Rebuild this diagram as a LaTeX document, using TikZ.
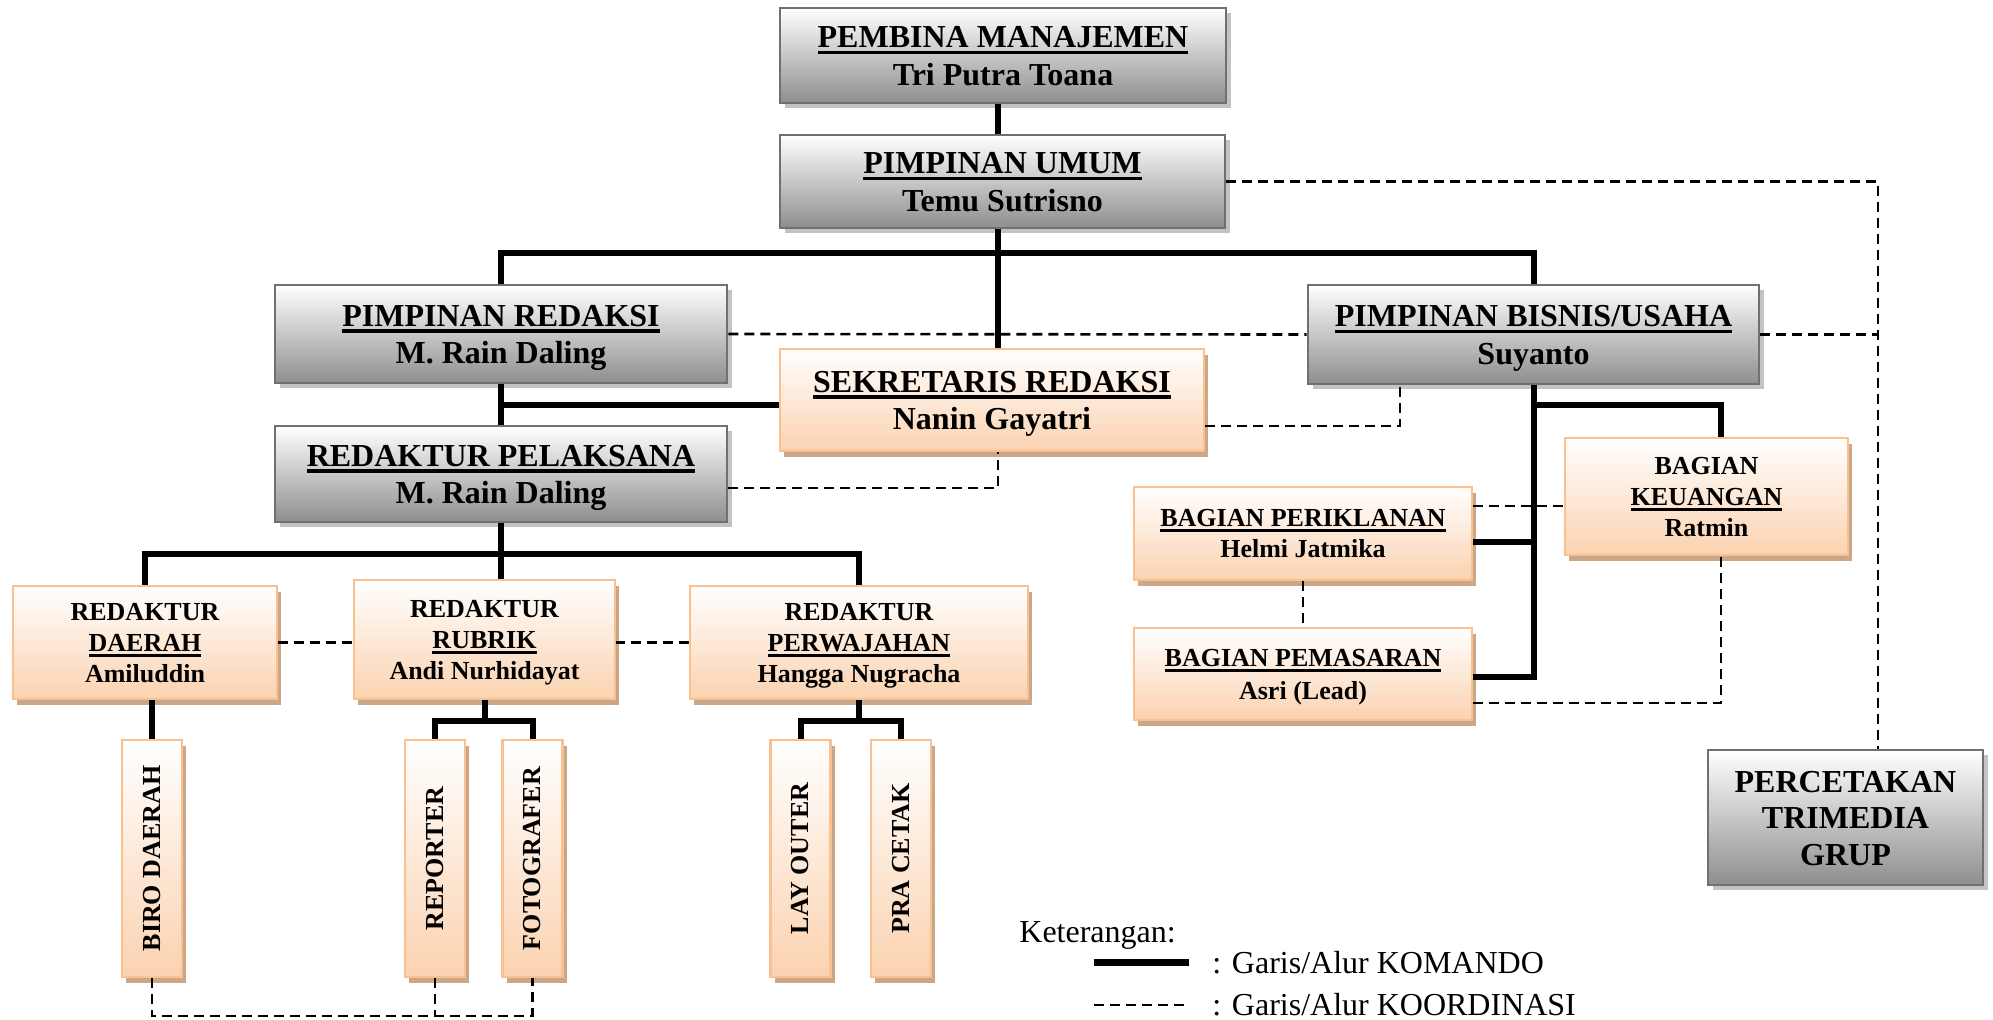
\documentclass[tikz,border=0pt]{standalone}
\usepackage{fontspec}
\setmainfont{Liberation Serif}
\usetikzlibrary{shadows}
\definecolor{grayB}{RGB}{142,142,142}
\definecolor{grayL}{RGB}{112,112,112}
\definecolor{grayS}{RGB}{195,195,195}
\definecolor{orB}{RGB}{250,192,143}
\definecolor{orF}{RGB}{251,210,176}
\definecolor{orS}{RGB}{202,167,137}
\newcommand\myul[1]{\setbox0\hbox{#1}\rlap{\rule[-0.2em]{\wd0}{0.11em}}\box0}
\newcommand\tS{\rule{0pt}{0.94em}}
\newcommand\bS{\rule[-0.25em]{0pt}{0.25em}}
\tikzset{
  basebox/.style={inner sep=0pt, align=center, line width=1.3pt},
  graybox/.style={basebox, draw=grayL, top color=white, bottom color=grayB,
    drop shadow={shadow xshift=2.5pt, shadow yshift=-2.5pt, fill=grayS, opacity=1},
    font=\bfseries\fontsize{16}{18.75}\selectfont},
  orbox/.style={basebox, draw=orB, top color=white, bottom color=orF,
    drop shadow={shadow xshift=2pt, shadow yshift=-3pt, fill=orS, opacity=1},
    font=\bfseries\fontsize{13}{15.5}\selectfont},
  orbig/.style={orbox, font=\bfseries\fontsize{16}{18.75}\selectfont},
  vtext/.style={rotate=90, inner sep=0pt, font=\bfseries\fontsize{13}{15}\selectfont},
  cmd/.style={line width=3pt},
  crd/.style={line width=1.3pt, dash pattern=on 5pt off 3pt},
  legend/.style={anchor=base west, inner sep=0pt, font=\fontsize{16}{18}\selectfont},
}
\begin{document}
\begin{tikzpicture}[x=0.5pt,y=-0.5pt]
\useasboundingbox (0,0) rectangle (1993,1019);
% boxes
\node[graybox, minimum width=223pt, minimum height=47.5pt] (pembina) at (1003,55.5) {\tS\myul{PEMBINA MANAJEMEN}\\Tri Putra Toana\bS};
\node[graybox, minimum width=222.5pt, minimum height=46.5pt] (umum) at (1002.5,181.5) {\tS\myul{PIMPINAN UMUM}\\Temu Sutrisno\bS};
\node[graybox, minimum width=226pt, minimum height=49pt] (predaksi) at (501,334) {\tS\myul{PIMPINAN REDAKSI}\\M. Rain Daling\bS};
\node[graybox, minimum width=225.5pt, minimum height=49.5pt] (bisnis) at (1533.5,334.5) {\tS\myul{PIMPINAN BISNIS/USAHA}\\Suyanto\bS};
\node[orbig, minimum width=212pt, minimum height=51pt] (sekretaris) at (992,400) {\tS\myul{SEKRETARIS REDAKSI}\\Nanin Gayatri\bS};
\node[graybox, minimum width=226pt, minimum height=48pt] (pelaksana) at (501,474) {\tS\myul{REDAKTUR PELAKSANA}\\M. Rain Daling\bS};
\node[orbox, minimum width=132pt, minimum height=56.5pt] (rdaerah) at (145,642.5) {\tS REDAKTUR\\\myul{DAERAH}\\Amiluddin\bS};
\node[orbox, minimum width=130.5pt, minimum height=59.5pt] (rrubrik) at (484.5,639.5) {\tS REDAKTUR\\\myul{RUBRIK}\\Andi Nurhidayat\bS};
\node[orbox, minimum width=169pt, minimum height=56.5pt] (rperwajahan) at (859,642.5) {\tS REDAKTUR\\\myul{PERWAJAHAN}\\Hangga Nugracha\bS};
\node[orbox, minimum width=141.5pt, minimum height=58.5pt] (keuangan) at (1706.5,496.5) {\tS BAGIAN\\\myul{KEUANGAN}\\Ratmin\bS};
\node[orbox, minimum width=169pt, minimum height=46.5pt] (periklanan) at (1303,533.5) {\tS\myul{BAGIAN PERIKLANAN}\\Helmi Jatmika\bS};
\node[orbox, minimum width=169pt, minimum height=46pt, font=\bfseries\fontsize{13}{16.5}\selectfont] (pemasaran) at (1303,674) {\tS\myul{BAGIAN PEMASARAN}\\Asri (Lead)\bS};
\node[graybox, minimum width=137.5pt, minimum height=67.5pt, font=\bfseries\fontsize{16}{18.25}\selectfont] (percetakan) at (1845.5,817.5) {\tS PERCETAKAN\\TRIMEDIA\\GRUP\bS};
\node[orbox, minimum width=30pt, minimum height=118.5pt] (biro) at (152,858.5) {};
\node[orbox, minimum width=30pt, minimum height=118.5pt] (reporter) at (435,858.5) {};
\node[orbox, minimum width=30pt, minimum height=118.5pt] (fotografer) at (532.5,858.5) {};
\node[orbox, minimum width=30pt, minimum height=118.5pt] (layouter) at (800.5,858.5) {};
\node[orbox, minimum width=30pt, minimum height=118.5pt] (pracetak) at (901,858.5) {};
\node[vtext] (tbiro) at (biro.center) {BIRO DAERAH};
\node[vtext] (treporter) at (reporter.center) {REPORTER};
\node[vtext] (tfotografer) at (fotografer.center) {FOTOGRAFER};
\node[vtext] (tlayouter) at (layouter.center) {LAY OUTER};
\node[vtext] (tpracetak) at (pracetak.center) {PRA CETAK};
% helper coordinates
\coordinate (xm) at (998,0);
\coordinate (xk) at (1721,0);
\coordinate (xr) at (1878,0);
\coordinate (xs) at (1400,0);
\coordinate (bus1) at (0,253);
\coordinate (y405) at (0,405);
\coordinate (bus2) at (0,554);
\coordinate (y721) at (0,721);
\coordinate (y506) at (0,506);
\coordinate (y1016) at (0,1016);
% command lines
\draw[cmd] (pembina.south -| xm) -- (umum.north -| xm);
\draw[cmd] (umum.south -| xm) -- (sekretaris.north -| xm);
\draw[cmd] (predaksi.north) -- (predaksi.north |- bus1) -- (bisnis.north |- bus1) -- (bisnis.north);
\draw[cmd] (predaksi.south) -- (pelaksana.north);
\draw[cmd] (predaksi.south |- y405) -- (sekretaris.west |- y405);
\draw[cmd] (pelaksana.south) -- (pelaksana.south |- rrubrik.north);
\draw[cmd] (rdaerah.north) -- (rdaerah.north |- bus2) -- (rperwajahan.north |- bus2) -- (rperwajahan.north);
\draw[cmd] (biro.north) -- (biro.north |- rdaerah.south);
\draw[cmd] (rrubrik.south) -- (rrubrik.south |- y721);
\draw[cmd] (reporter.north) -- (reporter.north |- y721) -- (fotografer.north |- y721) -- (fotografer.north);
\draw[cmd] (rperwajahan.south) -- (rperwajahan.south |- y721);
\draw[cmd] (layouter.north) -- (layouter.north |- y721) -- (pracetak.north |- y721) -- (pracetak.north);
\draw[cmd] (bisnis.south) |- ([yshift=-1.5pt]pemasaran.east);
\draw[cmd] ([yshift=-4pt]periklanan.east) -- ([yshift=-4pt]periklanan.east -| bisnis.south);
\draw[cmd] (bisnis.south |- y405) -| (keuangan.north -| xk);
% coordination lines
\draw[crd] (umum.east) -| (percetakan.north -| xr);
\draw[crd] (predaksi.east) -- (bisnis.west);
\draw[crd] (bisnis.east) -- (bisnis.east -| xr);
\draw[crd] ([yshift=-13pt]sekretaris.east) -| (bisnis.south -| xs);
\draw[crd] ([yshift=-7pt]pelaksana.east) -| (sekretaris.south -| xm);
\draw[crd] (rdaerah.east) -- (rdaerah.east -| rrubrik.west);
\draw[crd] (rperwajahan.west) -- (rperwajahan.west -| rrubrik.east);
\draw[crd] (periklanan.east |- y506) -- (keuangan.west |- y506);
\draw[crd] (periklanan.south) -- (pemasaran.north);
\draw[crd] ([yshift=-14.5pt]pemasaran.east) -| (keuangan.south -| xk);
\draw[crd] (biro.south) |- (fotografer.south |- y1016) -- (fotografer.south);
\draw[crd] (reporter.south) -- (reporter.south |- y1016);
% legend
\node[legend] (ket) at (1019,942) {Keterangan:};
\coordinate (la1) at (1094,962);
\coordinate (lb1) at (1189,962);
\coordinate (la2) at (1094,1005);
\coordinate (lb2) at (1189,1005);
\draw[line width=3.5pt] (la1) -- (lb1);
\draw[crd] (la2) -- (lb2);
\node[legend] (lk) at (1212,973) {: Garis/Alur KOMANDO};
\node[legend] (lc) at (1212,1015) {: Garis/Alur KOORDINASI};
\end{tikzpicture}
\end{document}
